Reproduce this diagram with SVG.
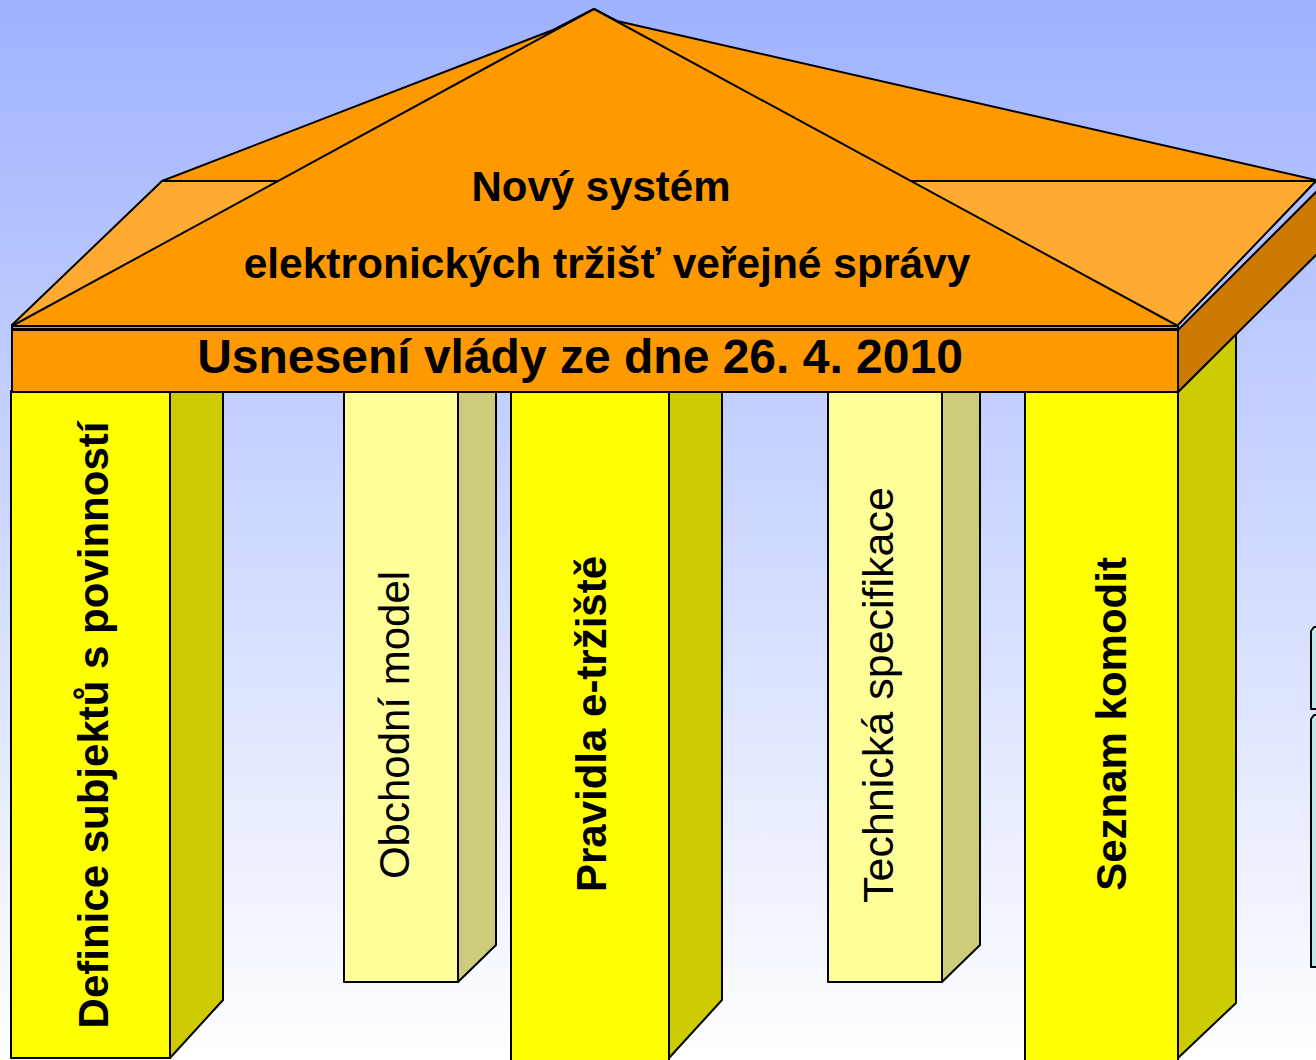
<svg xmlns="http://www.w3.org/2000/svg" width="1316" height="1060" viewBox="0 0 1316 1060">
<defs>
<linearGradient id="bg" x1="0" y1="0" x2="0" y2="1">
<stop offset="0" stop-color="#9EB2FE"/>
<stop offset="1" stop-color="#FFFFFF"/>
</linearGradient>
<style>
.ln{stroke:#000;stroke-width:2;stroke-linejoin:round}
.y{fill:#FFFF00}.ys{fill:#CCCC00}
.ly{fill:#FFFF99}.lys{fill:#CCCC7A}
.or{fill:#FF9900}.orl{fill:#FFAA33}.ord{fill:#CC7A00}
.cy{fill:#C4E6E8}
.t{font-family:"Liberation Sans",Arial,sans-serif;fill:#000}
.b{font-weight:bold}
</style>
</defs>
<rect width="1316" height="1060" fill="url(#bg)"/>

<g id="side-boxes">
<path class="ln cy" d="M1311,709 L1311,631 L1314,627 L1318,627 L1318,709 Z"/>
<path class="ln cy" d="M1311,967 L1311,719 L1314,715 L1318,715 L1318,967 Z"/>
</g>

<g id="pillar1">
<polygon class="ln ys" points="170,391 223,391 223,1000 170,1058"/>
<rect class="ln y" x="11" y="391" width="159" height="667"/>
<text class="t b" font-size="42" text-anchor="middle" transform="translate(108,725) rotate(-90)">Definice subjektů s povinností</text>
</g>

<g id="pillar2">
<polygon class="ln lys" points="458,391 496,391 496,945 458,982"/>
<rect class="ln ly" x="344" y="391" width="114" height="591"/>
<text class="t" font-size="42" text-anchor="middle" transform="translate(409,725) rotate(-90)">Obchodní model</text>
</g>

<g id="pillar3">
<polygon class="ln ys" points="669,391 722,391 722,1000 669,1058"/>
<rect class="ln y" x="511" y="391" width="158" height="670"/>
<text class="t b" font-size="42" text-anchor="middle" transform="translate(606,724) rotate(-90)">Pravidla e-tržiště</text>
</g>

<g id="pillar4">
<polygon class="ln lys" points="942,391 980,391 980,945 942,982"/>
<rect class="ln ly" x="828" y="391" width="114" height="591"/>
<text class="t" font-size="43" text-anchor="middle" transform="translate(893,695) rotate(-90)">Technická specifikace</text>
</g>

<g id="pillar5">
<polygon class="ln ys" points="1178,392 1236,334 1236,1003 1178,1058"/>
<rect class="ln y" x="1025" y="392" width="153" height="670"/>
<text class="t b" font-size="42" text-anchor="middle" transform="translate(1126,724) rotate(-90)">Seznam komodit</text>
</g>

<g id="roof">
<polygon class="ln or" points="162,181 553,30 594,9 617,21 1316,180 1316,182 162,182"/>
<polygon class="ln orl" points="12,325 162,181 1316,181 1178,325"/>
<polygon class="ln or" points="12,326 594,9 1178,326"/>
<rect class="ln or" x="12" y="326" width="1166" height="3"/>
<text class="t b" font-size="42" text-anchor="middle" x="601" y="201">Nový systém</text>
<text class="t b" font-size="42.5" text-anchor="middle" x="607" y="278">elektronických tržišť veřejné správy</text>
</g>

<g id="beam">
<polygon class="ln ord" points="1178,330 1318,190 1318,253 1178,392"/>
<rect class="ln or" x="12" y="330" width="1166" height="62"/>
<text class="t b" font-size="48" text-anchor="middle" x="580" y="373">Usnesení vlády ze dne 26. 4. 2010</text>
</g>
</svg>
